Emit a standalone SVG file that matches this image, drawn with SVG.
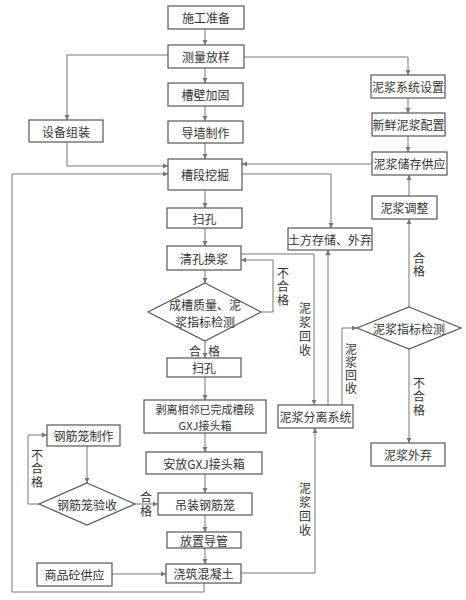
<svg xmlns="http://www.w3.org/2000/svg" width="466" height="600" viewBox="0 0 466 600">
<defs>
<marker id="ah" markerWidth="6" markerHeight="6" refX="5" refY="3" orient="auto" markerUnits="userSpaceOnUse">
<path d="M0,0.5 L5,3 L0,5.5 Z" fill="#777"/>
</marker>
<style>
.box{fill:#fff;stroke:#555;stroke-width:1.2}
.t{font-family:"Noto Sans CJK SC","Noto Sans",sans-serif;font-size:12px;fill:#333;text-anchor:middle;dominant-baseline:central}
.v{font-family:"Noto Sans CJK SC","Noto Sans",sans-serif;font-size:12px;fill:#333;writing-mode:vertical-rl;text-anchor:start}
.c{fill:none;stroke:#777;stroke-width:1}
.a{marker-end:url(#ah)}
</style>
</defs>
<rect width="466" height="600" fill="#fff"/>
<g id="connectors">
<path class="c a" d="M205,29 V45"/>
<path class="c a" d="M205,68 V83"/>
<path class="c a" d="M205,106 V121"/>
<path class="c a" d="M205,143 V159"/>
<path class="c a" d="M168,55 H67 V120"/>
<path class="c a" d="M243,57 H408 V75"/>
<path class="c a" d="M408,98 V113"/>
<path class="c a" d="M408,136 V152"/>
<path class="c a" d="M372,164 H242"/>
<path class="c a" d="M67,142 V166 H168"/>
<path class="c a" d="M204,583 V592 H12 V174 H168"/>
<path class="c a" d="M242,174 H331 V228"/>
<path class="c a" d="M205,190 V208"/>
<path class="c a" d="M205,228 V246"/>
<path class="c a" d="M205,270 V283"/>
<path class="c a" d="M261,312 H273 V260 H241"/>
<path class="c a" d="M205,341 V358"/>
<path class="c a" d="M205,377 V400"/>
<path class="c a" d="M205,433 V452"/>
<path class="c a" d="M205,474 V493"/>
<path class="c a" d="M205,515 V532"/>
<path class="c a" d="M205,548 V564"/>
<path class="c a" d="M112,574 H166"/>
<path class="c a" d="M241,573 H315 V428"/>
<path class="c a" d="M241,254 H314 V405"/>
<path class="c a" d="M328,405 V250"/>
<path class="c a" d="M342,405 V328 H357"/>
<path class="c a" d="M409,307 V219"/>
<path class="c a" d="M409,196 V175"/>
<path class="c a" d="M409,349 V443"/>
<path class="c a" d="M87,446 V483"/>
<path class="c a" d="M39,504 H28 V435 H47"/>
<path class="c a" d="M135,504 H158"/>
</g>
<g id="labels">
<text class="v" x="283" y="267" letter-spacing="1.5">不合格</text>
<text class="t" x="195" y="350">合</text><text class="t" x="214" y="350">格</text>
<text class="v" x="305" y="302" letter-spacing="2">泥浆回收</text>
<text class="v" x="351" y="343" letter-spacing="1.3">泥浆回收</text>
<text class="v" x="305" y="482" letter-spacing="2">泥浆回收</text>
<text class="v" x="419" y="252" letter-spacing="1">合格</text>
<text class="v" x="419" y="377" letter-spacing="1.5">不合格</text>
<text class="v" x="37" y="449" letter-spacing="1.5">不合格</text>
<text class="v" x="146" y="491" letter-spacing="2">合格</text>
</g>
<g id="n1"><rect class="box" x="168" y="6" width="76" height="23"/><text class="t" x="206" y="17.5">施工准备</text></g>
<g id="n2"><rect class="box" x="168" y="45" width="76" height="23"/><text class="t" x="206" y="56.5">测量放样</text></g>
<g id="n3"><rect class="box" x="168" y="83" width="75" height="23"/><text class="t" x="205.5" y="94.5">槽壁加固</text></g>
<g id="n4"><rect class="box" x="168" y="121" width="75" height="22"/><text class="t" x="205.5" y="132">导墙制作</text></g>
<g id="n5"><rect class="box" x="168" y="159" width="74" height="31"/><text class="t" x="205" y="174.5">槽段挖掘</text></g>
<g id="n6"><rect class="box" x="29" y="120" width="74" height="22"/><text class="t" x="66" y="131">设备组装</text></g>
<g id="n7"><rect class="box" x="371" y="75" width="74" height="23"/><text class="t" x="408" y="86.5">泥浆系统设置</text></g>
<g id="n8"><rect class="box" x="372" y="113" width="73" height="23"/><text class="t" x="408.5" y="124.5">新鲜泥浆配置</text></g>
<g id="n9"><rect class="box" x="372" y="152" width="75" height="23"/><text class="t" x="409.5" y="163.5">泥浆储存供应</text></g>
<g id="n10"><rect class="box" x="167" y="208" width="75" height="20"/><text class="t" x="204.5" y="218">扫孔</text></g>
<g id="n11"><rect class="box" x="167" y="246" width="74" height="24"/><text class="t" x="204" y="258">清孔换浆</text></g>
<g id="n12"><polygon class="box" points="205,283 261,312 205,341 148,312"/><text class="t" x="205" y="304">成槽质量、泥<tspan x="205" dy="16.5">浆指标检测</tspan></text></g>
<g id="n13"><rect class="box" x="167" y="358" width="74" height="19"/><text class="t" x="204" y="367.5">扫孔</text></g>
<g id="n14"><rect class="box" x="144" y="400" width="122" height="33"/><text class="t" x="205" y="408.5" style="font-size:11px">剥离相邻已完成槽段<tspan x="205" dy="16">GXJ接头箱</tspan></text></g>
<g id="n15"><rect class="box" x="146" y="452" width="116" height="22"/><text class="t" x="204" y="463">安放GXJ接头箱</text></g>
<g id="n16"><rect class="box" x="158" y="493" width="94" height="22"/><text class="t" x="205" y="504">吊装钢筋笼</text></g>
<g id="n17"><rect class="box" x="167" y="532" width="74" height="16"/><text class="t" x="204" y="540">放置导管</text></g>
<g id="n18"><rect class="box" x="166" y="564" width="75" height="19"/><text class="t" x="203.5" y="573.5">浇筑混凝土</text></g>
<g id="n19"><rect class="box" x="37" y="563" width="75" height="23"/><text class="t" x="74.5" y="574.5">商品砼供应</text></g>
<g id="n20"><rect class="box" x="47" y="425" width="73" height="21"/><text class="t" x="83.5" y="435.5">钢筋笼制作</text></g>
<g id="n21"><polygon class="box" points="87,483 135,504 87,525 39,504"/><text class="t" x="87" y="504">钢筋笼验收</text></g>
<g id="n22"><rect class="box" x="288" y="228" width="84" height="22"/><text class="t" x="330" y="239">土方存储、外弃</text></g>
<g id="n23"><rect class="box" x="372" y="196" width="65" height="23"/><text class="t" x="404.5" y="207.5">泥浆调整</text></g>
<g id="n24"><polygon class="box" points="409,307 461,328 409,349 357,328"/><text class="t" x="409" y="328">泥浆指标检测</text></g>
<g id="n25"><rect class="box" x="278" y="405" width="75" height="23"/><text class="t" x="315.5" y="416.5">泥浆分离系统</text></g>
<g id="n26"><rect class="box" x="371" y="443" width="74" height="23"/><text class="t" x="408" y="454.5">泥浆外弃</text></g>
</svg>
